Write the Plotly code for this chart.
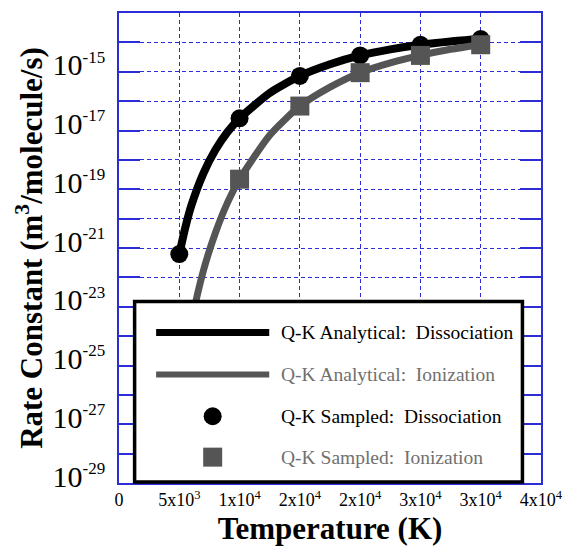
import plotly.graph_objects as go

# Temperatures (K) and rate constants (m^3/molecule/s)
T_analytic = [5000, 5500, 6000, 7000, 8000, 9000, 10000, 12500, 15000,
              17500, 20000, 22500, 25000, 27500, 30000]
k_analytic_diss = [6.2e-22, 5.0e-21, 2.8e-20, 3.5e-19, 2.2e-18, 8.9e-18, 2.6e-17,
                   1.9e-16, 7.2e-16, 1.8e-15, 3.6e-15, 5.8e-15, 8.3e-15, 1.07e-14, 1.3e-14]
k_analytic_ion = [1.1e-26, 2.4e-25, 3.0e-24, 1.7e-22, 3.3e-21, 3.5e-20, 2.2e-19,
                  6.9e-18, 6.8e-17, 3.0e-16, 9.3e-16, 2.0e-15, 3.6e-15, 5.8e-15, 8.3e-15]

T_sampled_diss = [5000, 10000, 15000, 20000, 25000, 30000]
k_sampled_diss = [6.2e-22, 2.6e-17, 7.2e-16, 3.6e-15, 8.3e-15, 1.3e-14]
T_sampled_ion = [10000, 15000, 20000, 25000, 30000]
k_sampled_ion = [2.2e-19, 6.8e-17, 9.3e-16, 3.6e-15, 8.3e-15]

x_tickvals = [0, 5000, 10000, 15000, 20000, 25000, 30000, 35000]
x_ticktext = ["0", "5x10<sup>3</sup>", "1x10<sup>4</sup>", "2x10<sup>4</sup>",
              "2x10<sup>4</sup>", "3x10<sup>4</sup>", "3x10<sup>4</sup>", "4x10<sup>4</sup>"]
y_exponents = list(range(-29, -13))

legend_names = ["Q-K Analytical:\u00a0 Dissociation", "Q-K Analytical:\u00a0 Ionization",
                "Q-K Sampled:\u00a0 Dissociation", "Q-K Sampled:\u00a0 Ionization"]

BLACK = "#000000"
GRAY = "#555555"
GRAY_TEXT = "#707070"
GRID = "rgb(45,45,215)"
FONT = "Liberation Serif"

fig = go.Figure()
fig.add_trace(go.Scatter(x=T_analytic, y=k_analytic_diss, mode="lines",
                         line=dict(color=BLACK, width=8, shape="spline", smoothing=0.6),
                         showlegend=False))
fig.add_trace(go.Scatter(x=T_sampled_diss, y=k_sampled_diss, mode="markers",
                         marker=dict(symbol="circle", size=18, color=BLACK),
                         showlegend=False))
fig.add_trace(go.Scatter(x=T_analytic, y=k_analytic_ion, mode="lines",
                         line=dict(color=GRAY, width=7, shape="spline", smoothing=0.6),
                         showlegend=False))
fig.add_trace(go.Scatter(x=T_sampled_ion, y=k_sampled_ion, mode="markers",
                         marker=dict(symbol="square", size=19, color=GRAY),
                         showlegend=False))

y_tickvals = [10.0 ** e for e in y_exponents]
y_ticktext = [("10<sup><span style='font-size:17px'>%d</span></sup>" % e) if e % 2 else ""
              for e in y_exponents]

fig.update_xaxes(range=[0, 35000], tickvals=x_tickvals, ticktext=x_ticktext,
                 tickfont=dict(family=FONT, size=18, color="black"),
                 showgrid=True, gridcolor=GRID, gridwidth=1, griddash="4px,3px",
                 showline=True, linecolor=GRID, linewidth=1.5, mirror=True,
                 ticks="", zeroline=False,
                 title=dict(text="<b>Temperature (K)</b>", standoff=8,
                            font=dict(family=FONT, size=31, color="black")))
fig.update_yaxes(type="log", range=[-29, -13], tickvals=y_tickvals, ticktext=y_ticktext,
                 tickfont=dict(family=FONT, size=30, color="black"),
                 showgrid=True, gridcolor=GRID, gridwidth=1, griddash="4px,3px",
                 showline=True, linecolor=GRID, linewidth=1.5, mirror="ticks",
                 ticks="inside", ticklen=21, tickcolor=GRID, tickwidth=1.5,
                 ticklabelstandoff=6, ticklabelshift=-7, zeroline=False,
                 title=dict(text="<b>Rate Constant (m<sup>3</sup>/molecule/s)</b>", standoff=1,
                            font=dict(family=FONT, size=31, color="black")))

# Legend panel drawn in paper coordinates
shapes = [dict(type="rect", xref="paper", yref="paper", x0=0.037, x1=0.956, y0=0.002, y1=0.386,
               fillcolor="white", line=dict(color="black", width=3.5), layer="above")]
legend_rows = [0.32, 0.231, 0.142, 0.055]
shapes.append(dict(type="line", xref="paper", yref="paper", x0=0.088, x1=0.356,
                   y0=legend_rows[0], y1=legend_rows[0], line=dict(color=BLACK, width=7)))
shapes.append(dict(type="line", xref="paper", yref="paper", x0=0.088, x1=0.356,
                   y0=legend_rows[1], y1=legend_rows[1], line=dict(color=GRAY, width=6)))
shapes.append(dict(type="circle", xref="paper", yref="paper", xsizemode="pixel", ysizemode="pixel",
                   xanchor=0.222, yanchor=legend_rows[2], x0=-9, x1=9, y0=-9, y1=9,
                   fillcolor=BLACK, line=dict(width=0)))
shapes.append(dict(type="rect", xref="paper", yref="paper", xsizemode="pixel", ysizemode="pixel",
                   xanchor=0.222, yanchor=legend_rows[3], x0=-9.5, x1=9.5, y0=-9.5, y1=9.5,
                   fillcolor=GRAY, line=dict(width=0)))

text_colors = [BLACK, GRAY_TEXT, BLACK, GRAY_TEXT]
annotations = [dict(xref="paper", yref="paper", x=0.378, y=yy, text=name, showarrow=False,
                    xanchor="left", yanchor="middle",
                    font=dict(family=FONT, size=19.5, color=col))
               for yy, name, col in zip(legend_rows, legend_names, text_colors)]

fig.update_layout(width=574, height=552, margin=dict(l=119, r=23, t=11, b=69),
                  paper_bgcolor="white", plot_bgcolor="white",
                  font=dict(family=FONT),
                  shapes=shapes, annotations=annotations, showlegend=False)

fig.write_html("out.html")
